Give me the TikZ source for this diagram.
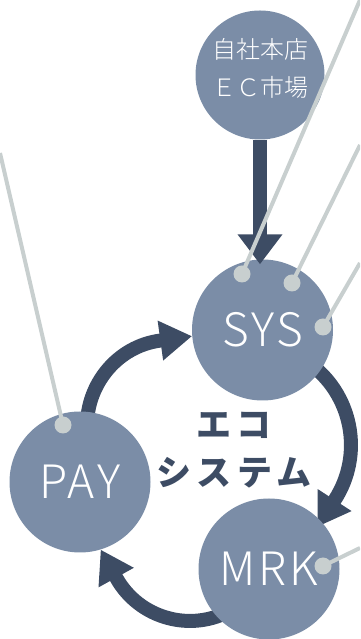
\documentclass[tikz,border=0pt]{standalone}
\usepackage{fontspec}
\newfontfamily\jp{Noto Sans CJK JP}
\IfFontExistsTF{Noto Sans CJK JP Light}
  {\newfontfamily\jplight[LetterSpace=6]{Noto Sans CJK JP Light}
   \newfontfamily\jplighttop{Noto Sans CJK JP Light}}
  {\IfFontExistsTF{Lato Light}
    {\newfontfamily\jplight[LetterSpace=6]{Lato Light}
     \newfontfamily\jplighttop{Noto Sans CJK JP}}
    {\newfontfamily\jplight[LetterSpace=6]{Noto Sans CJK JP}
     \newfontfamily\jplighttop{Noto Sans CJK JP}}}
\newfontfamily\jpsp[LetterSpace=16]{Noto Sans CJK JP}
\usetikzlibrary{arrows.meta,calc}
\definecolor{nodefill}{HTML}{7B8DA7}
\definecolor{navy}{HTML}{3D4C64}
\definecolor{pin}{HTML}{C8CFCF}
\pgfdeclarelayer{bg}
\pgfsetlayers{bg,main}
\begin{document}
\begin{tikzpicture}[x=1pt,y=1pt,
  hub/.style={circle, fill=nodefill, draw=none, inner sep=0pt, minimum size=141pt,
    text=white, font=\jplight\fontsize{46}{46}\selectfont, text height=33pt, text depth=0pt},
  toptext/.style={text=white, font=\jplighttop\fontsize{24}{38}\selectfont, align=center, inner sep=0pt},
  flow/.style={draw=navy, line width=14pt, -{Triangle[length=32pt,width=38pt]}},
  pinline/.style={draw=pin, line width=4pt},
  pindot/.style={circle, fill=pin, draw=none, inner sep=0pt, minimum size=17pt},
  ecotext/.style={text=navy, font=\jpsp\bfseries\fontsize{35}{48}\selectfont, align=center, inner sep=0pt}]
\useasboundingbox (0,0) rectangle (360,639);
\clip (0,0) rectangle (360,639);

\node[hub, minimum size=129pt, label={[toptext, yshift=7pt]center:自社本店\\ＥＣ市場}] (top) at (260,564) {};
\node[hub] (sys) at (262.5,309) {SYS};
\node[hub] (pay) at (80,157) {PAY};
\node[hub] (mrk) at (269,70) {MRK};

\begin{pgfonlayer}{bg}
\draw[flow] ($(pay.center)+(82.9:56.4)$) .. controls +(90:42.4) and +(187.9:42.4) ..
  ($(sys.185.9)+(187.9:32.7)$) -- (sys.185.9);
\draw[flow] ($(sys.center)+(-35.4:55.7)$) .. controls +(-35:54.4) and +(57:54.4) ..
  ($(mrk.center)+(41.1:64)+(57:32)$) -- ($(mrk.center)+(41.1:64)$);
\draw[flow] ($(mrk.center)+(227.7:55)$) .. controls +(210:47) and +(299:47) ..
  ($(pay.287.3)+(299:32)$) -- (pay.287.3);
\end{pgfonlayer}

\draw[flow, -{Triangle[length=30pt,width=43pt]}] (top.south) -- ($(top.south |- sys.north)+(0,-5)$);

\node[ecotext] (eco) at (234,189) {エコ\\システム};

\node[pindot] (d1) at (242,365) {};
\node[pindot] (d2) at (292,356) {};
\node[pindot] (d3) at (323,312) {};
\node[pindot] (d4) at (63,214) {};
\node[pindot] (d5) at (323,73) {};
\coordinate (e1) at (360,639);
\coordinate (e2) at (360,494);
\coordinate (e3) at (360,376);
\coordinate (e4) at (0,486);
\coordinate (e5) at (360,91);
\draw[pinline] (d1.center) -- (e1);
\draw[pinline] (d2.center) -- (e2);
\draw[pinline] (d3.center) -- (e3);
\draw[pinline] (d4.center) -- (e4);
\draw[pinline] (d5.center) -- (e5);
\end{tikzpicture}
\end{document}
